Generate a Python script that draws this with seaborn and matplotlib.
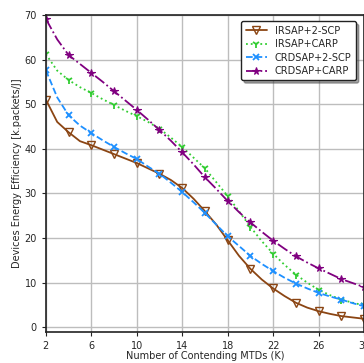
import numpy as np
import pandas as pd
import matplotlib
matplotlib.use("Agg")
import matplotlib.pyplot as plt
import seaborn as sns

K = list(range(2, 31))
irsap_2scp = [51, 46, 43.7, 41.7, 40.8, 39.8, 38.8, 37.8, 36.8, 35.6, 34.4, 33.0, 31.2, 28.8, 26.0, 23.0, 19.5, 16.0, 13.1, 10.7, 8.7, 7.0, 5.5, 4.4, 3.6, 3.0, 2.5, 2.2, 1.9]
irsap_carp = [61.2, 57.5, 55.4, 53.8, 52.5, 51.1, 49.8, 48.5, 47.3, 46.0, 44.5, 42.5, 40.4, 38.0, 35.6, 32.5, 29.4, 26.0, 22.5, 19.3, 16.5, 14.0, 11.8, 10.0, 8.4, 7.2, 6.2, 5.5, 4.9]
crdsap_2scp = [57.6, 51.5, 47.5, 45.2, 43.5, 41.9, 40.4, 39.0, 37.7, 36.0, 34.4, 32.4, 30.3, 28.0, 25.6, 23.0, 20.4, 18.2, 16.0, 14.2, 12.6, 11.1, 9.8, 8.7, 7.7, 6.9, 6.2, 5.4, 4.7]
crdsap_carp = [69.1, 64.5, 61.0, 59.0, 57.0, 55.0, 52.9, 50.8, 48.7, 46.5, 44.2, 41.8, 39.2, 36.5, 33.6, 31.0, 28.3, 25.8, 23.5, 21.4, 19.4, 17.6, 15.9, 14.5, 13.2, 12.0, 10.8, 9.9, 9.0]

series = ["IRSAP+2-SCP", "IRSAP+CARP", "CRDSAP+2-SCP", "CRDSAP+CARP"]
values = [irsap_2scp, irsap_carp, crdsap_2scp, crdsap_carp]
colors = ["#8B4513", "#32CD32", "#1E90FF", "#800080"]
styles = ["-", ":", "--", "-."]
markers = ["v", "1", "x", "*"]

sns.set_style("white")
plt.rcParams['font.family'] = ['DejaVu Sans']

fig = plt.figure(figsize=(3.64, 3.63), dpi=100)
ax = fig.add_axes([0.126, 0.085, 0.874, 0.874])

for name, vals, c, ls, m in zip(series, values, colors, styles, markers):
    df = pd.DataFrame({"K": K, "E": vals})
    kw = dict(marker=m, markevery=2, linewidth=1.3, linestyle=ls, color=c, label=name,
              markeredgecolor=c)
    if m == "v":
        kw.update(markersize=6, markerfacecolor="none", markeredgewidth=1.0)
    elif m == "*":
        kw.update(markersize=5.5, markerfacecolor=c, markeredgewidth=0.8)
    elif m == "x":
        kw.update(markersize=5, markeredgewidth=1.3)
    else:
        kw.update(markersize=6, markeredgewidth=1.3)
    sns.lineplot(data=df, x="K", y="E", ax=ax, **kw)

ax.set_xlim(2, 30)
ax.set_ylim(-1.1, 70)
ax.set_xticks([2, 6, 10, 14, 18, 22, 26, 30])
ax.set_yticks([0, 10, 20, 30, 40, 50, 60, 70])
ax.grid(True, color="#bdbdbd", linewidth=1.0)
ax.set_axisbelow(True)
for s in ax.spines.values():
    s.set_color("#222222")
    s.set_linewidth(1.2)
ax.tick_params(axis="both", labelsize=7, direction="out", length=3, color="#222222", bottom=True, left=True)
ax.set_xlabel("Number of Contending MTDs (K)", fontsize=7, labelpad=0)
ax.set_ylabel("Devices Energy Efficiency [k.packets/J]", fontsize=7, labelpad=2)
leg = ax.legend(loc="upper right", fontsize=7, frameon=True, shadow=True, fancybox=True,
                edgecolor="#222222", framealpha=1, handlelength=2.2, borderpad=0.45,
                labelspacing=0.35, bbox_to_anchor=(0.99, 0.995))
fig.savefig("out.png", dpi=100)
